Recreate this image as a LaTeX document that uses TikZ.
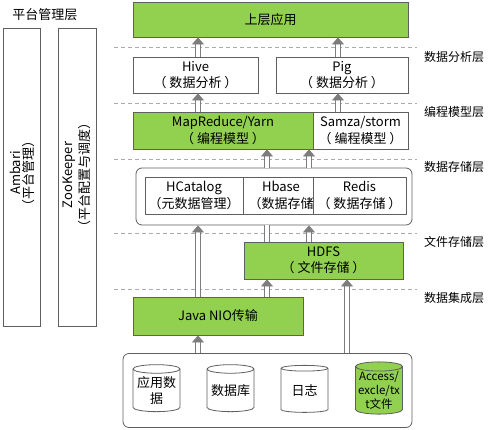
\documentclass[tikz,border=0pt]{standalone}
\usepackage{fontspec}
\setmainfont{Noto Sans CJK SC}
\usetikzlibrary{arrows.meta,shapes.geometric,calc}
\definecolor{lgreen}{RGB}{146,208,80}
\definecolor{bord}{RGB}{95,95,95}
\definecolor{dgray}{RGB}{170,170,170}
\definecolor{agray}{RGB}{125,125,125}
\begin{document}
\begin{tikzpicture}[x=1pt,y=-1pt,
  txt/.style={font=\fontsize{13}{16.5}\selectfont, text=black, inner sep=0pt, align=center},
  box/.style={txt, draw=bord, line width=0.8pt, fill=white},
  gbox/.style={box, fill=lgreen},
  rbox/.style={box, rounded corners=6pt},
  cyl/.style={txt, font=\fontsize{13}{16}\selectfont, draw=bord, line width=0.8pt, fill=white, cylinder, shape border rotate=90, aspect=0.22, minimum width=47pt, minimum height=47pt},
  harrow/.style={draw=agray, line width=0.8pt, double=white, double distance=3.6pt, -{Triangle[length=7pt,width=12pt]}},
  hshaft/.style={draw=agray, line width=0.8pt, double=white, double distance=3.6pt},
  sep/.style={draw=dgray, line width=0.8pt, dash pattern=on 4pt off 3pt},
  lbl/.style={txt, font=\fontsize{12}{15}\selectfont}
]
\path[use as bounding box] (0,0) rectangle (490,429);

% dashed separators
\foreach \yy in {47,103,159,233,289} \draw[sep] (114,\yy) -- (417,\yy);

% left platform bars
\node[txt] (ptitle) at (45,15) {平台管理层};
\node[box, minimum width=37pt, minimum height=298pt] (ambbar) at (21.5,177) {};
\node[txt, rotate=90, font=\fontsize{13}{13}\selectfont] (amb) at (22,173) {Ambari\\（平台管理）};
\node[box, minimum width=38pt, minimum height=298pt] (zkbar) at (77,177) {};
\node[txt, rotate=90, font=\fontsize{13}{17.5}\selectfont] (zk) at (77,175) {ZooKeeper\\（平台配置与调度）};

% layer boxes
\node[gbox, minimum width=275pt, minimum height=35pt] (app) at (270.5,19.5) {上层应用};
\node[box, minimum width=125pt, minimum height=36pt] (hive) at (195.5,75) {Hive\\（ 数据分析 ）};
\node[box, minimum width=132pt, minimum height=36pt] (pig) at (342,75) {Pig\\（ 数据分析 ）};
\node[gbox, minimum width=180pt, minimum height=37pt] (mr) at (223,130.5) {MapReduce/Yarn\\（ 编程模型 ）};
\node[box, minimum width=95pt, minimum height=37pt] (samza) at (360.5,130.5) {Samza/storm\\（ 编程模型 ）};

\node[rbox, minimum width=276pt, minimum height=57pt] (store) at (274,196.5) {};
\node[box, minimum width=98pt, minimum height=37pt] (hcat) at (194,195.5) {HCatalog\\（元数据管理）};
\node[box, minimum width=70pt, minimum height=37pt] (hbase) at (278,195.5) {};
\node[txt] (hbasetxt) at (281,195.5) {Hbase\\（数据存储};
\node[box, minimum width=93pt, minimum height=37pt] (redis) at (359.5,195.5) {Redis\\（ 数据存储 ）};

\node[gbox, minimum width=159pt, minimum height=37pt] (hdfs) at (323.5,260.5) {HDFS\\（ 文件存储 ）};
\node[gbox, minimum width=170pt, minimum height=38pt] (java) at (218,316) {Java NIO传输};

\node[rbox, minimum width=289pt, minimum height=74pt] (src) at (267.5,390.5) {};
\node[cyl] (c1) at (156.5,390.5) {应用数\\据};
\node[cyl] (c2) at (230.5,390.5) {数据库};
\node[cyl] (c3) at (304.5,390.5) {日志};
\node[cyl, fill=lgreen, font=\fontsize{11.5}{14}\selectfont] (c4) at (379,390.5) {Access/\\excle/tx\\t文件};

% right layer labels
\node[lbl] (l1) at (454,57) {数据分析层};
\node[lbl] (l2) at (454,112) {编程模型层};
\node[lbl] (l3) at (454,167) {数据存储层};
\node[lbl] (l4) at (454,242) {文件存储层};
\node[lbl] (l5) at (454,298) {数据集成层};

% arrows
\draw[harrow] ([xshift=2.5pt]hive.north) -- ([xshift=2.5pt]hive.north |- app.south);
\draw[harrow] ([xshift=-4pt]pig.north) -- ([xshift=-4pt]pig.north |- app.south);
\draw[harrow] ([xshift=2.5pt]hive.north |- mr.north) -- ([xshift=2.5pt]hive.south);
\draw[harrow] ([xshift=-4pt]pig.north |- samza.north) -- ([xshift=-4pt]pig.south);
\draw[harrow] (267,0 |- store.north) -- (267,0 |- mr.south);
\draw[harrow] (309,0 |- store.north) -- (309,0 |- mr.south);
\draw[hshaft] (267,0 |- hdfs.north) -- (267,0 |- store.south);
\draw[harrow] (309,0 |- hdfs.north) -- (309,0 |- store.south);
\draw[harrow] (198,0 |- java.north) -- (198,0 |- store.south);
\draw[harrow] (267,0 |- java.north) -- (267,0 |- hdfs.south);
\draw[harrow] (198,0 |- src.north) -- (198,0 |- java.south);
\draw[harrow] (347,0 |- src.north) -- (347,0 |- hdfs.south);
\end{tikzpicture}
\end{document}
